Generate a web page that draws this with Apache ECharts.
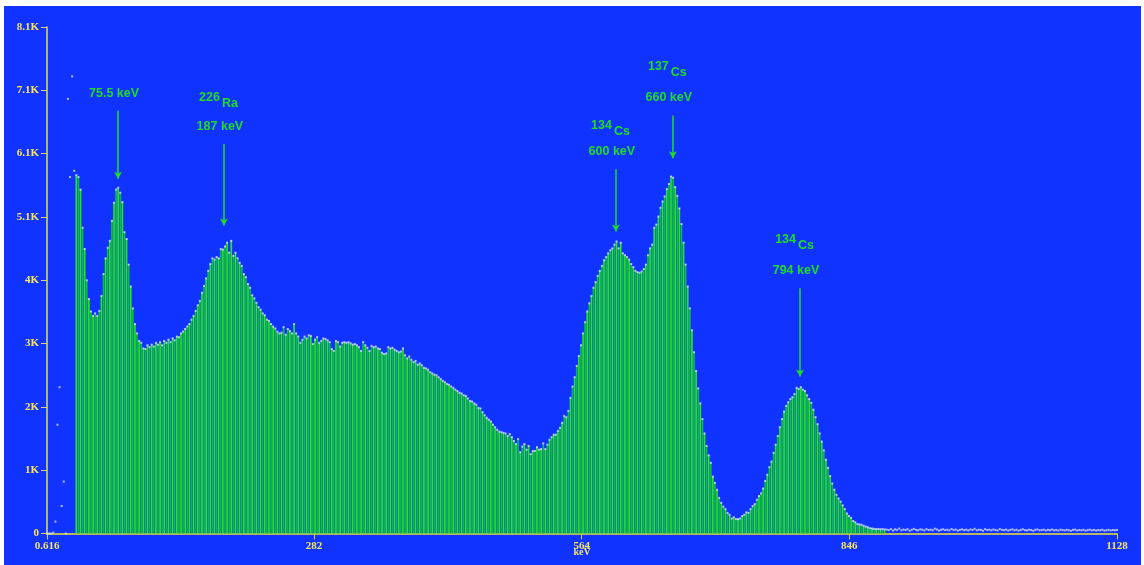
<!DOCTYPE html>
<html>
<head>
<meta charset="utf-8">
<title>Gamma spectrum</title>
<script src="https://cdn.jsdelivr.net/npm/echarts@6/dist/echarts.min.js"></script>
<style>
  html, body { margin: 0; padding: 0; background: #ffffff; }
  #chart { position: absolute; left: 4px; top: 6px; width: 1137px; height: 559px; background: #1133ff; }
</style>
</head>
<body>
<div id="chart"></div>
<script>
// Counts per channel (512 channels, calibrated 0.616 .. 1128 keV)
const COUNTS = [
  0, 0, 0, 15, 190, 1740, 2340, 440, 830, 0, 6950, 5700, 7310, 5800,
  5730, 5700, 5500, 4890, 4550, 4050, 3750, 3550, 3480, 3520,
  3480, 3560, 3800, 4150, 4400, 4570, 4680, 5000, 5290, 5500,
  5530, 5450, 5300, 4820, 4710, 4300, 3950, 3600, 3350, 3200,
  3080, 3050, 2960, 2950, 3010, 2980, 3020, 2990, 3050, 3020,
  3060, 3010, 3080, 3050, 3100, 3060, 3120, 3090, 3150, 3140,
  3200, 3230, 3270, 3310, 3350, 3420, 3480, 3560, 3650, 3720,
  3850, 3960, 4080, 4200, 4310, 4400, 4380, 4420, 4400, 4550,
  4540, 4590, 4650, 4490, 4680, 4440, 4490, 4400, 4330, 4280,
  4150, 4100, 3990, 3930, 3810, 3760, 3690, 3620, 3580, 3520,
  3490, 3420, 3400, 3350, 3310, 3280, 3230, 3200, 3210, 3300,
  3180, 3270, 3240, 3200, 3350, 3200, 3150, 3050, 3100, 3150,
  3120, 3170, 3160, 3030, 3100, 3140, 3050, 3080, 3120, 3110,
  3090, 3060, 2950, 2920, 3080, 3060, 2990, 3050, 3060, 3050,
  3060, 3040, 3020, 3030, 3010, 2980, 2920, 3060, 3010, 2970,
  2920, 3000, 2980, 2990, 2960, 2950, 2890, 2870, 2880, 2980,
  2960, 2970, 2940, 2920, 2900, 2910, 2960, 2850, 2800, 2830,
  2780, 2740, 2760, 2700, 2720, 2690, 2650, 2640, 2620, 2580,
  2560, 2540, 2530, 2500, 2470, 2440, 2420, 2390, 2380, 2350,
  2330, 2300, 2280, 2250, 2240, 2210, 2200, 2160, 2120, 2110,
  2080, 2060, 2010, 2000, 1940, 1890, 1850, 1820, 1790, 1740,
  1700, 1660, 1630, 1620, 1610, 1600, 1560, 1590, 1540, 1480,
  1430, 1510, 1300, 1390, 1430, 1340, 1400, 1270, 1320, 1320,
  1380, 1340, 1350, 1440, 1350, 1420, 1500, 1540, 1580, 1580,
  1640, 1690, 1770, 1880, 1860, 1960, 2170, 2350, 2500, 2680,
  2840, 3010, 3200, 3380, 3550, 3680, 3800, 3930, 4020, 4120,
  4200, 4280, 4370, 4420, 4480, 4530, 4560, 4620, 4670, 4560,
  4650, 4480, 4450, 4420, 4380, 4310, 4260, 4200, 4180, 4170,
  4190, 4230, 4300, 4450, 4560, 4620, 4890, 4940, 5070, 5210,
  5310, 5390, 5510, 5590, 5710, 5690, 5540, 5400, 5200, 4950,
  4650, 4300, 3950, 3600, 3250, 2900, 2600, 2320, 2080, 1830,
  1600, 1400, 1250, 1130, 910, 810, 700, 570, 490, 430,
  390, 330, 300, 240, 260, 230, 230, 240, 280, 300,
  340, 330, 390, 440, 470, 540, 600, 640, 720, 840,
  940, 1060, 1150, 1290, 1420, 1560, 1700, 1830, 1950, 2040,
  2100, 2150, 2180, 2230, 2330, 2310, 2340, 2300, 2280, 2210,
  2150, 2090, 1980, 1860, 1750, 1600, 1470, 1330, 1180, 1050,
  920, 800, 700, 620, 560, 510, 450, 390, 320, 280,
  250, 200, 180, 150, 145, 140, 125, 110, 100, 85,
  80, 75, 70, 72, 68, 70, 66,
  62, 55, 71, 48, 66, 59, 80, 52, 63, 57,
  69, 45, 60, 74, 58, 51, 66, 62, 49, 70,
  56, 61, 53, 78, 64, 47, 59, 68, 55, 60,
  50, 72, 57, 63, 46, 58, 67, 54, 61, 49,
  65, 56, 76, 52, 60, 58, 44, 69, 57, 62,
  51, 64, 55, 48, 71, 59, 53, 63, 47, 58,
  66, 52, 60, 45, 57, 68, 54, 49, 62, 56,
  43, 59, 65, 51, 55, 61, 47, 58, 53, 64,
  50, 57, 46, 62, 55, 49, 60, 52, 44, 58,
  63, 48, 56, 51, 59, 45, 54, 61, 50, 57,
  47, 55, 52, 60, 46, 53, 58, 49, 56, 51,
  54
];

// Region of interest drawn as filled bars (channel indices, inclusive)
const ROI_FIRST = 14;
const ROI_LAST = 400;

// Energy calibration of the channel axis
const E_MIN = 0.616;
const E_MAX = 1128;

const X_TICKS = [0.616, 282, 564, 846, 1128];
const Y_MAX = 8100;
const Y_STEP = 1012.5;
const Y_TICK_LABELS = ['0', '1K', '2K', '3K', '4K', '5.1K', '6.1K', '7.1K', '8.1K'];

// Identified peaks: energy, nuclide, and arrow extent in counts
const PEAK_ENERGY = [75.5, 187, 600, 660, 794];
const PEAK_TEXT = ['75.5 keV', '187 keV', '600 keV', '660 keV', '794 keV'];
const PEAK_MASS = ['', '226', '134', '137', '134'];
const PEAK_ELEMENT = ['', 'Ra', 'Cs', 'Cs', 'Cs'];
const ARROW_FROM = [6760, 6227, 5827, 6685, 3923];
const ARROW_TO = [5672, 4925, 4829, 6003, 2509];

const kevPerChannel = (E_MAX - E_MIN) / (COUNTS.length - 1);
const energyOf = (i) => E_MIN + i * kevPerChannel;

const points = COUNTS.map((c, i) => [energyOf(i), c]);
const roiBars = [];
for (let i = ROI_FIRST; i <= ROI_LAST; i++) roiBars.push([energyOf(i), COUNTS[i]]);

const YELLOW = '#f6e65c';
const GREEN = '#22dc22';
const axisFont = { color: YELLOW, fontFamily: 'Liberation Serif', fontWeight: 'bold', fontSize: 11 };

const chart = echarts.init(document.getElementById('chart'), null, { renderer: 'canvas' });

chart.setOption({
  animation: false,
  backgroundColor: '#1133ff',
  grid: { left: 43, right: 24, top: 21, bottom: 31.5, containLabel: false, outerBoundsMode: 'none' },
  xAxis: {
    type: 'value',
    min: E_MIN,
    max: E_MAX,
    name: 'keV',
    nameLocation: 'middle',
    nameGap: 14,
    nameMoveOverlap: false,
    nameTextStyle: Object.assign({}, axisFont, { fontSize: 10, verticalAlign: 'top' }),
    axisLine: { show: true, onZero: false, lineStyle: { color: '#f4e230', width: 1.6 } },
    axisTick: { show: true, length: 6, customValues: X_TICKS, lineStyle: { color: '#d8cc60', width: 1 } },
    axisLabel: Object.assign({}, axisFont, {
      margin: 7,
      customValues: X_TICKS,
      formatter: (v) => (v < 1 ? String(v) : String(Math.round(v)))
    }),
    splitLine: { show: false }
  },
  yAxis: {
    type: 'value',
    min: 0,
    max: Y_MAX,
    interval: Y_STEP,
    axisLine: { show: true, lineStyle: { color: '#e9dc55', width: 1.5 } },
    axisTick: { show: true, length: 6, lineStyle: { color: '#e0d45a', width: 1 } },
    axisLabel: Object.assign({}, axisFont, {
      margin: 8,
      formatter: (v) => Y_TICK_LABELS[Math.round(v / Y_STEP)]
    }),
    splitLine: { show: false }
  },
  series: [
    {
      name: 'ROI',
      type: 'bar',
      data: roiBars,
      barWidth: 1.7,
      large: false,
      itemStyle: {
        color: (p) => ((p.dataIndex % 2) ? '#0bbb4a' : '#26e61c')
      },
      silent: true,
      z: 2
    },
    {
      name: 'Counts',
      type: 'scatter',
      data: points,
      symbol: 'rect',
      symbolSize: 2,
      itemStyle: { color: '#d6e2ff' },
      silent: true,
      z: 3,
      markLine: {
        silent: true,
        symbol: ['none', 'arrow'],
        symbolSize: [6, 7],
        label: { show: false },
        lineStyle: { color: GREEN, width: 1.5, type: 'solid' },
        data: PEAK_ENERGY.map((e, k) => [
          { coord: [e, ARROW_FROM[k]] },
          { coord: [e, ARROW_TO[k]] }
        ])
      }
    }
  ]
});

// Peak captions placed above each arrow
const textFont = { fontFamily: 'Liberation Sans', fontWeight: 'bold', fontSize: 12.5, fill: GREEN };
const NUCLIDE_LIFT = [0, 40.5, 37.5, 42.5, 42.5];
const graphics = [];
PEAK_ENERGY.forEach((e, k) => {
  const top = chart.convertToPixel({ gridIndex: 0 }, [e, ARROW_FROM[k]]);
  graphics.push({
    type: 'text', silent: true,
    style: Object.assign({}, textFont, {
      text: PEAK_TEXT[k], x: top[0] - 4, y: top[1] - 17.5, align: 'center', verticalAlign: 'middle'
    })
  });
  if (PEAK_MASS[k]) {
    const lift = NUCLIDE_LIFT[k];
    graphics.push({
      type: 'text', silent: true,
      style: Object.assign({}, textFont, {
        text: PEAK_MASS[k], x: top[0] - 4, y: top[1] - lift - 6.5, align: 'right', verticalAlign: 'middle'
      })
    });
    graphics.push({
      type: 'text', silent: true,
      style: Object.assign({}, textFont, {
        text: PEAK_ELEMENT[k], x: top[0] - 2, y: top[1] - lift, align: 'left', verticalAlign: 'middle'
      })
    });
  }
});
chart.setOption({ graphic: graphics });
</script>
</body>
</html>
